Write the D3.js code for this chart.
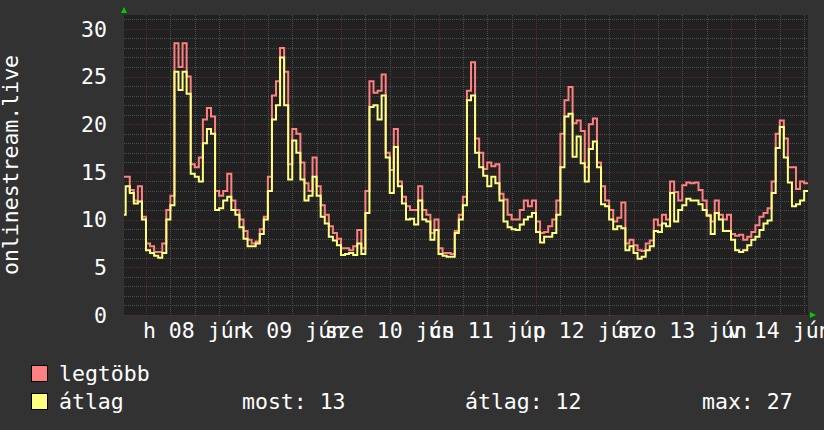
<!DOCTYPE html>
<html>
<head>
<meta charset="utf-8">
<script src="https://cdn.jsdelivr.net/npm/d3@7"></script>
<style>
  html, body { margin: 0; padding: 0; background: #323232; }
  svg { display: block; }
</style>
</head>
<body>
<svg id="chart"></svg>
<script>
/* RRD-style two-line graph: onlinestream.live, one week */

// hourly samples, starting Jun 7 18:00 UTC
const START_HOUR = Date.UTC(2015, 5, 7, 18);

const legtobb = [
  14.5, 14.5, 13.1, 12.0, 13.5, 10.3,
  7.5, 7.2, 6.6, 6.6, 7.5, 11.0, 12.5, 28.5, 26.0, 28.5, 25.0, 15.8,
  15.5, 16.5, 20.5, 21.7, 20.8, 13.0, 12.5, 13.0, 14.8, 12.0, 11.0, 10.0,
  8.8, 7.9, 7.5, 7.7, 9.0, 10.3, 14.5, 23.0, 24.5, 28.0, 25.5, 15.8,
  19.5, 19.0, 16.0, 13.8, 13.0, 16.5, 13.5, 11.5, 10.5, 9.3, 8.6, 8.0,
  7.0, 7.0, 6.8, 7.2, 8.9, 7.0, 13.0, 24.5, 23.3, 23.5, 25.2, 17.0,
  15.2, 19.5, 14.0, 12.4, 11.4, 11.0, 11.0, 13.5, 11.0, 10.5, 8.6, 10.0,
  7.0, 6.5, 6.5, 6.4, 8.8, 10.5, 12.4, 23.5, 26.5, 18.5, 17.0, 15.3,
  16.0, 15.6, 15.8, 12.7, 12.1, 10.5, 10.0, 10.0, 11.0, 12.0, 11.4, 12.0,
  9.8, 8.6, 8.7, 9.3, 10.0, 12.0, 19.0, 22.5, 23.9, 20.1, 20.4, 19.3,
  15.5, 20.0, 20.6, 16.0, 13.5, 12.0, 11.0, 9.8, 10.2, 11.8, 7.5, 7.9,
  7.3, 6.8, 6.7, 7.5, 7.8, 10.0, 9.4, 10.5, 10.0, 14.0, 12.9, 12.0,
  13.6, 13.9, 13.8, 13.9, 13.1, 12.0, 10.5, 9.8, 12.0, 10.5, 10.0, 10.5,
  8.5, 8.3, 8.4, 7.9, 8.2, 8.7, 9.4, 10.3, 10.7, 11.2, 14.0, 19.0,
  20.4, 18.5, 15.5, 15.5, 13.2, 14.0, 13.8
];

const atlag = [
  10.5, 13.5, 12.8, 11.7, 11.9, 10.0,
  6.8, 6.5, 6.2, 6.0, 6.5, 10.0, 11.5, 25.5, 23.6, 25.5, 23.2, 14.8,
  14.5, 14.0, 18.0, 19.5, 19.0, 11.0, 11.2, 12.0, 12.4, 11.0, 10.5, 9.2,
  8.0, 7.2, 7.2, 7.5, 8.5, 10.0, 13.0, 20.5, 22.0, 27.0, 22.0, 14.2,
  18.3, 17.0, 14.2, 12.0, 12.5, 14.5, 12.5, 10.3, 9.6, 8.2, 7.8, 7.3,
  6.3, 6.4, 6.5, 6.3, 7.5, 6.4, 10.7, 21.8, 22.0, 20.5, 23.0, 16.5,
  12.8, 17.6, 13.5, 11.7, 10.0, 10.1, 9.5, 12.0, 10.0, 9.8, 7.9, 8.9,
  6.4, 6.2, 6.1, 6.1, 8.6, 10.0, 11.5, 22.5, 23.0, 17.0, 15.5, 14.6,
  13.5, 14.5, 13.8, 12.0, 9.8, 9.2, 9.0, 8.9, 9.5, 10.0, 10.3, 10.7,
  8.7, 7.6, 8.2, 8.2, 8.6, 10.5, 15.5, 20.8, 21.1, 16.6, 18.7, 15.9,
  14.0, 17.4, 18.2, 15.5, 11.6, 11.4, 10.0, 9.0, 9.3, 9.1, 6.8, 7.2,
  6.5, 5.9, 6.1, 6.8, 7.2, 8.8, 8.7, 9.6, 9.3, 12.8, 9.8, 11.0,
  11.5, 12.2, 12.0, 12.0, 11.6, 11.0, 10.4, 8.5, 10.7, 10.0, 8.8, 8.8,
  7.9, 6.8, 6.6, 6.8, 7.3, 7.9, 8.2, 8.9, 9.6, 9.9, 12.8, 17.5,
  19.7, 16.5, 13.9, 11.4, 11.6, 12.0, 13.0
];

const dayLabels = ['h 08 jún', 'k 09 jún', 'sze 10 jún', 'cs 11 jún', 'p 12 jún', 'szo 13 jún', 'v 14 jún'];
const yTicks    = [0, 5, 10, 15, 20, 25, 30];
const seriesNames = ['legtöbb', 'átlag'];
const statLabels  = ['most: 13', 'átlag: 12', 'max: 27'];

const W = 824, H = 430;
const plot = { left: 124, right: 808, top: 15, bottom: 315 };
const FONT = '"DejaVu Sans Mono", monospace';
const FS = 21.5;

const COL = {
  bg:     '#323232',
  canvas: '#212121',
  grid:   '#4d4d4d',
  mgrid:  '#5e2b2b',
  red:    '#ff8080',
  yellow: '#ffff80',
  arrow:  '#00cc00',
  text:   '#ffffff',
};

const HOUR = 3600 * 1000;
const toSeries = arr => arr.map((v, i) => ({ t: new Date(START_HOUR + i * HOUR), v }));
const redData = toSeries(legtobb);
const yelData = toSeries(atlag);
// extend last step by one hour
[redData, yelData].forEach(s => {
  const last = s[s.length - 1];
  s.push({ t: new Date(+last.t + HOUR), v: last.v });
});

const x = d3.scaleUtc()
  .domain([new Date(Date.UTC(2015, 5, 7, 18, 35)), new Date(Date.UTC(2015, 5, 14, 18, 57))])
  .range([plot.left, plot.right]);

const y = d3.scaleLinear()
  .domain([0, 31.45])
  .range([plot.bottom, plot.top]);

const svg = d3.select('#chart')
  .attr('width', W)
  .attr('height', H)
  .attr('viewBox', `0 0 ${W} ${H}`);

svg.append('rect').attr('width', W).attr('height', H).attr('fill', COL.bg);

svg.append('rect')
  .attr('x', plot.left).attr('y', plot.top)
  .attr('width', plot.right - plot.left)
  .attr('height', plot.bottom - plot.top)
  .attr('fill', COL.canvas);

/* ── grid ── */
const grid = svg.append('g').attr('shape-rendering', 'crispEdges');

const minorY = d3.range(1, 32).filter(v => v % 5 !== 0);
grid.selectAll('.gy')
  .data(minorY)
  .join('line')
  .attr('x1', plot.left).attr('x2', plot.right)
  .attr('y1', d => Math.round(y(d)) + 0.5).attr('y2', d => Math.round(y(d)) + 0.5)
  .attr('stroke', COL.grid)
  .attr('stroke-dasharray', '1,1');

const minorX = d3.utcHour.every(6).range(...x.domain()).filter(d => d.getUTCHours() !== 0);
grid.selectAll('.gx')
  .data(minorX)
  .join('line')
  .attr('x1', d => Math.round(x(d)) + 0.5).attr('x2', d => Math.round(x(d)) + 0.5)
  .attr('y1', plot.top).attr('y2', plot.bottom + 2)
  .attr('stroke', COL.grid)
  .attr('stroke-dasharray', '1,1');

grid.selectAll('.my')
  .data(yTicks)
  .join('line')
  .attr('x1', plot.left - 2).attr('x2', plot.right)
  .attr('y1', d => Math.round(y(d)) + 0.5).attr('y2', d => Math.round(y(d)) + 0.5)
  .attr('stroke', COL.mgrid)
  .attr('stroke-dasharray', '1,1');

const days = d3.utcDay.range(...x.domain());
grid.selectAll('.mx')
  .data(days)
  .join('line')
  .attr('x1', d => Math.round(x(d)) + 0.5).attr('x2', d => Math.round(x(d)) + 0.5)
  .attr('y1', plot.top).attr('y2', plot.bottom + 3)
  .attr('stroke', COL.mgrid)
  .attr('stroke-dasharray', '1,1');

/* ── lines ── */
svg.append('clipPath').attr('id', 'clip')
  .append('rect')
  .attr('x', plot.left).attr('y', plot.top)
  .attr('width', plot.right - plot.left)
  .attr('height', plot.bottom - plot.top);

const line = d3.line()
  .x(d => x(d.t))
  .y(d => y(d.v))
  .curve(d3.curveStepAfter);

const lines = svg.append('g').attr('clip-path', 'url(#clip)');
lines.append('path')
  .datum(redData)
  .attr('d', line)
  .attr('fill', 'none')
  .attr('stroke', COL.red)
  .attr('stroke-width', 2)
  .attr('stroke-linejoin', 'miter');
lines.append('path')
  .datum(yelData)
  .attr('d', line)
  .attr('fill', 'none')
  .attr('stroke', COL.yellow)
  .attr('stroke-width', 2)
  .attr('stroke-linejoin', 'miter');

/* ── axis arrows ── */
svg.append('path')
  .attr('d', `M${plot.left - 3},${plot.top - 2} L${plot.left + 3},${plot.top - 2} L${plot.left},${plot.top - 8} Z`)
  .attr('fill', COL.arrow);
svg.append('path')
  .attr('d', `M${plot.right + 2},${plot.bottom - 3} L${plot.right + 2},${plot.bottom + 3} L${plot.right + 8},${plot.bottom} Z`)
  .attr('fill', COL.arrow);

/* ── labels ── */
const txt = svg.append('g')
  .attr('fill', COL.text)
  .attr('font-family', FONT)
  .attr('font-size', FS);

txt.selectAll('.yl')
  .data(yTicks)
  .join('text')
  .attr('x', 107)
  .attr('y', d => y(d))
  .attr('dy', '0.36em')
  .attr('text-anchor', 'end')
  .text(d => d);

txt.selectAll('.xl')
  .data(days)
  .join('text')
  .attr('x', d => x(d3.utcHour.offset(d, 12)))
  .attr('y', 338)
  .attr('text-anchor', 'middle')
  .text((d, i) => dayLabels[i]);

txt.append('text')
  .attr('transform', 'translate(18,165) rotate(-90)')
  .attr('text-anchor', 'middle')
  .text('onlinestream.live');

/* ── legend ── */
const legendColors = [COL.red, COL.yellow];
const legendY = [381, 409];
seriesNames.forEach((name, i) => {
  svg.append('rect')
    .attr('x', 31.5).attr('y', legendY[i] - 15.5)
    .attr('width', 16).attr('height', 16)
    .attr('fill', legendColors[i])
    .attr('stroke', '#000')
    .attr('stroke-width', 1);
  txt.append('text')
    .attr('x', 59).attr('y', legendY[i])
    .text(name);
});

const statX = [242, 465, 702];
txt.selectAll('.stat')
  .data(statLabels)
  .join('text')
  .attr('x', (d, i) => statX[i])
  .attr('y', legendY[1])
  .text(d => d);
</script>
</body>
</html>
